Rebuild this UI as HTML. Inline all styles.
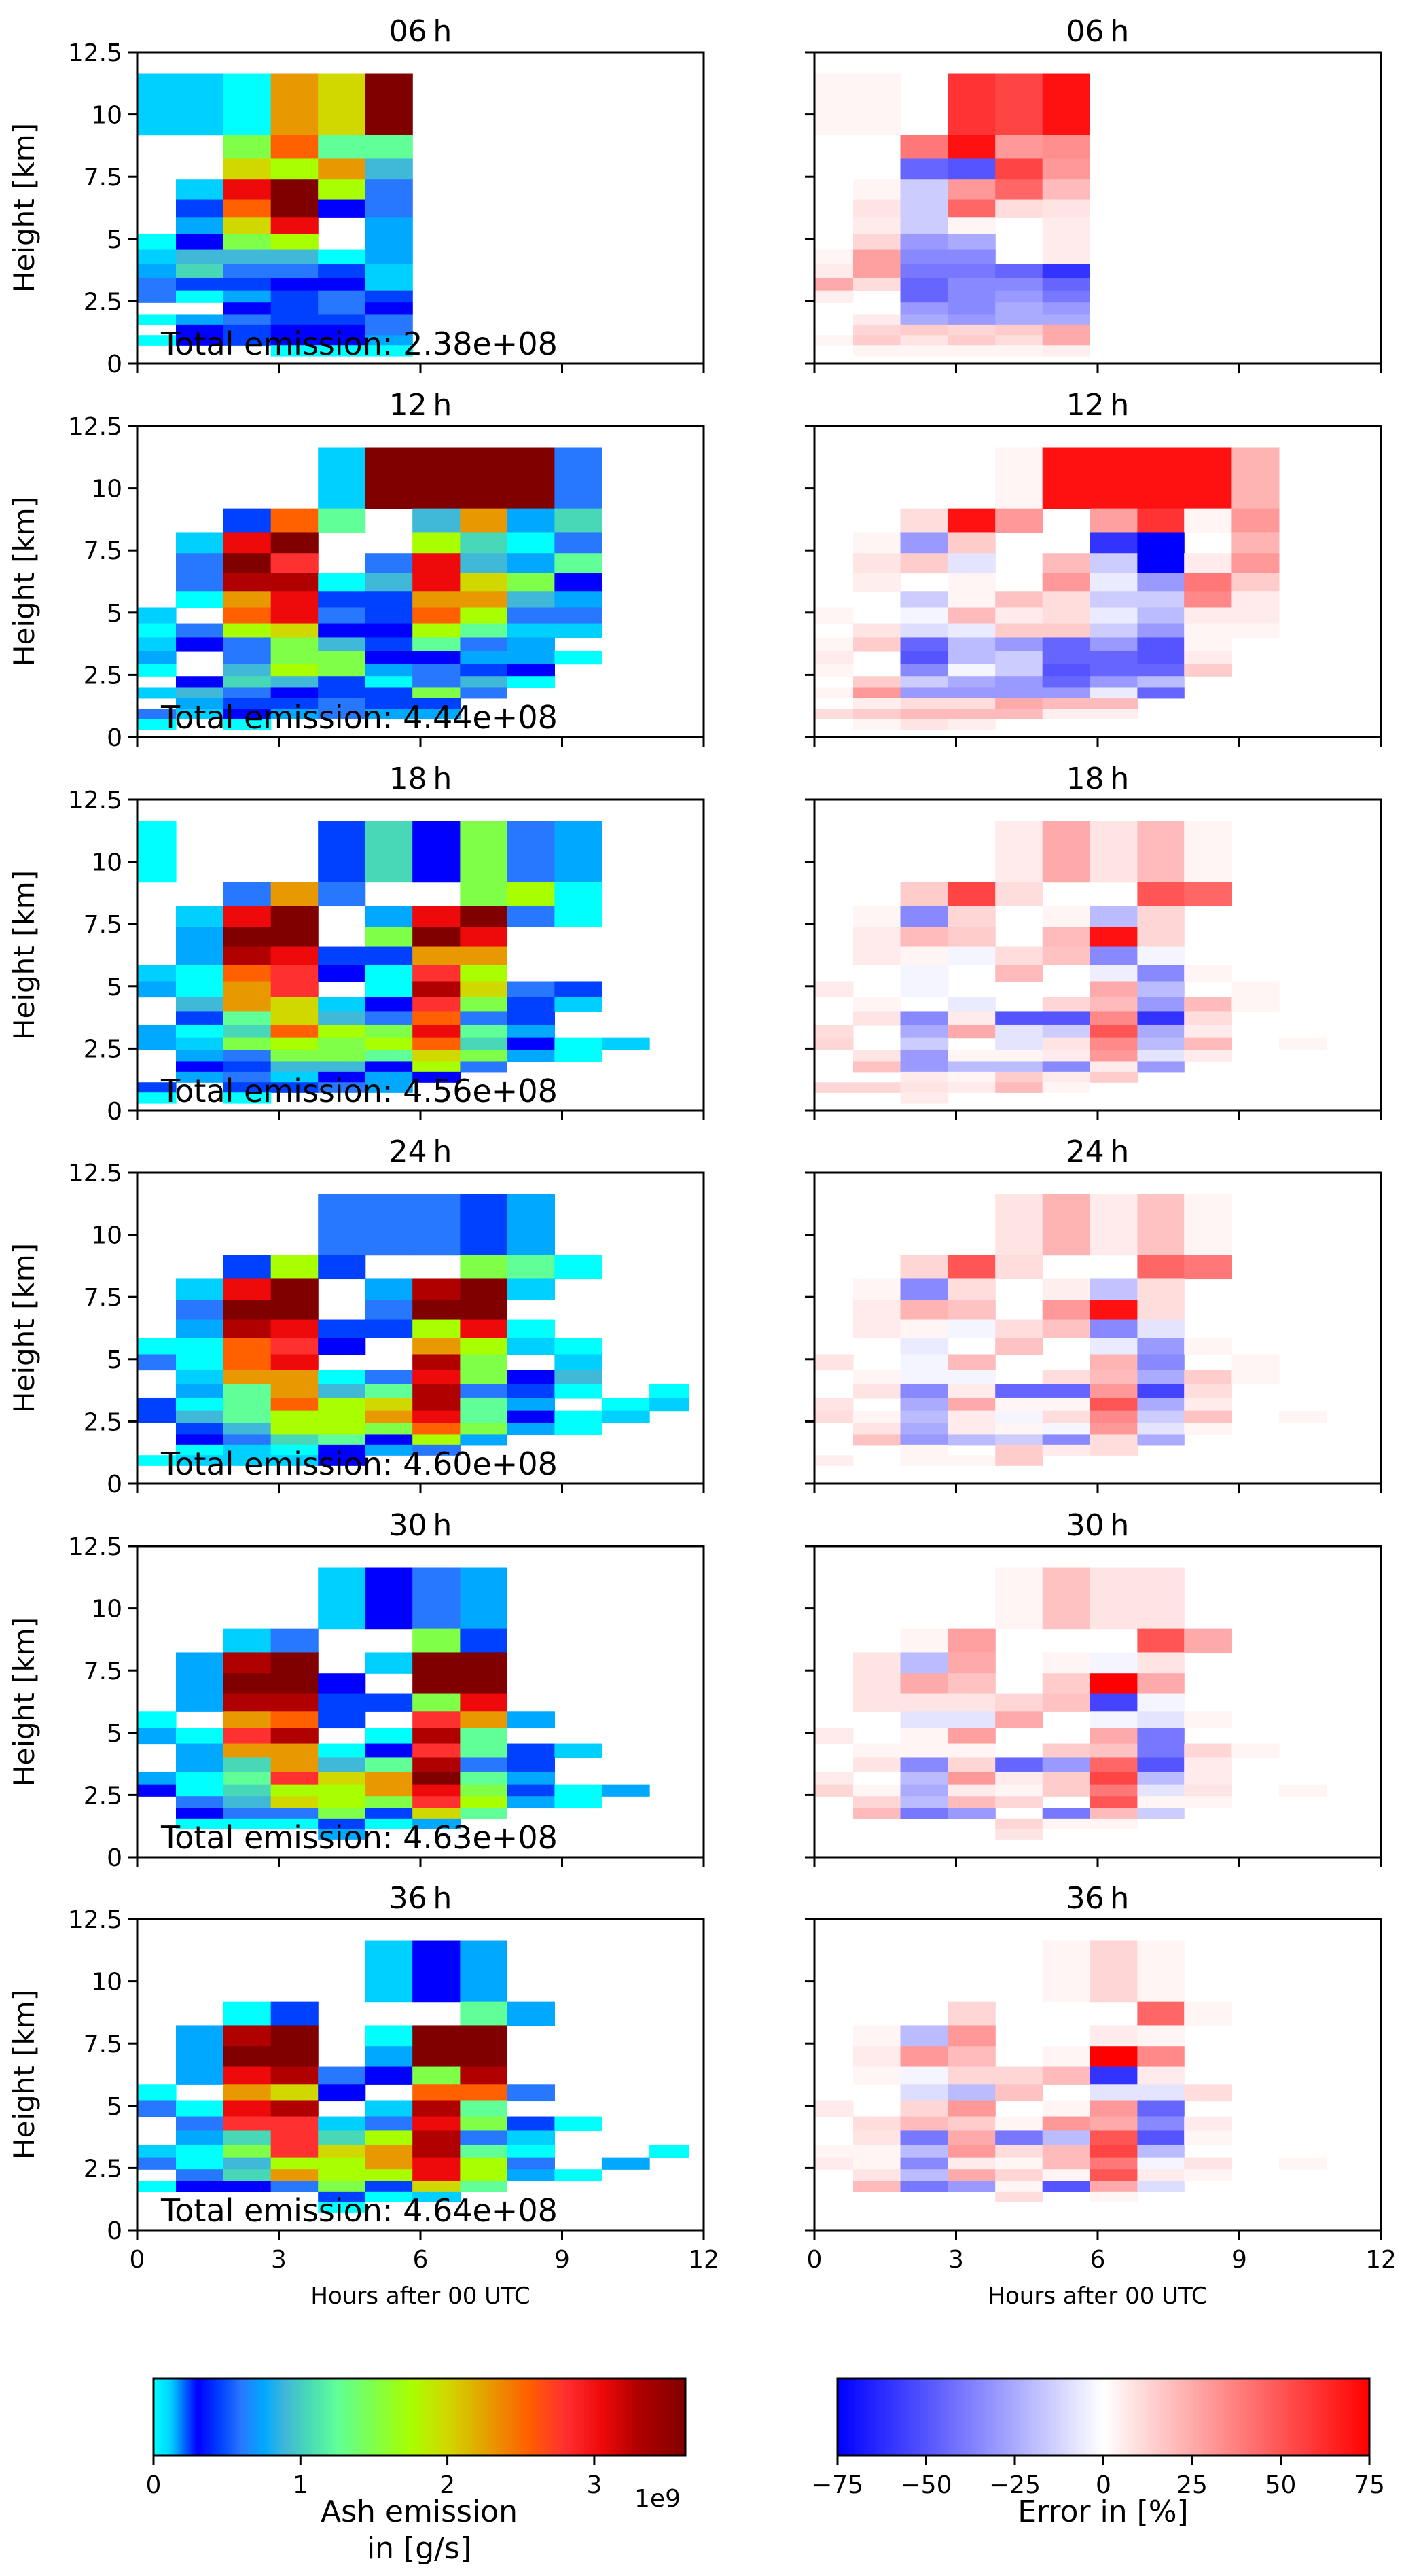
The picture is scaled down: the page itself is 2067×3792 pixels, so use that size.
<!DOCTYPE html>
<html><head><meta charset="utf-8"><style>
html,body{margin:0;padding:0;background:#fff}
svg{display:block;font-family:"DejaVu Sans","Liberation Sans",sans-serif}
</style></head><body>
<svg id="fig" xmlns="http://www.w3.org/2000/svg" width="2067" height="3792" viewBox="0 0 2067 3792"></svg>
<script>
const timeEdges=[0,0.82,1.82,2.83,3.83,4.83,5.83,6.84,7.83,8.84,9.84,10.85,11.68];
const heightEdges=[0.3,0.73,1.14,1.56,1.98,2.45,2.93,3.44,4.0,4.57,5.2,5.86,6.59,7.39,8.23,9.18,11.64];
const panelTitles=["06\u2009h","12\u2009h","18\u2009h","24\u2009h","30\u2009h","36\u2009h"];
const totalLabels=["2.38e+08","4.44e+08","4.56e+08","4.60e+08","4.63e+08","4.64e+08"];
const yTicks=[0,2.5,5,7.5,10,12.5];
const yTickLabels=["0","2.5","5","7.5","10","12.5"];
const xTicks=[0,3,6,9,12];
const xTickLabels=["0","3","6","9","12"];
const ashTicks=[0,1,2,3];
const errTicks=[-75,-50,-25,0,25,50,75];
const errTickLabels=["\u221275","\u221250","\u221225","0","25","50","75"];

// ash emission, 1e9 g/s, rows listed top (9.18-11.64 km) to bottom
const ash06=[
[0.12,0.12,0,2.3,2.0,3.64],[,,1.5,2.55,1.25,1.25],[,,2.0,1.75,2.3,0.9],[,0.12,3.05,3.64,1.75,0.6],
[,0.45,2.55,3.64,0.3,0.6],[,0.75,2.0,3.05,,0.75],[0,0.3,1.5,1.75,,0.75],[0.12,0.9,0.9,0.9,0,0.75],
[0.75,1.05,0.6,0.6,0.45,0.12],[0.6,0.45,0.45,0.3,0.3,0.12],[0.6,0,0.75,0.45,0.6,0.45],[,,0.3,0.45,0.6,0.3],
[0,0.75,0.6,0.45,0.45,0.6],[,0.3,0.45,0.3,0.3,0.6],[0,0.3,0.45,0.3,0.3,0.75],[,,,0,0,0]];
const ash12=[
[,,,,0.12,3.64,3.64,3.64,3.64,0.6],[,,0.45,2.55,1.25,,0.9,2.3,0.75,1.05],[,0.12,3.05,3.64,,,1.75,1.05,0,0.6],
[,0.6,3.64,2.8,,0.6,3.05,0.9,0.75,1.25],[,0.6,3.3,3.3,0,0.9,3.05,2.0,1.5,0.3],[,0,2.3,3.05,0.45,0.45,2.3,2.3,0.9,0.75],
[0.12,,2.55,3.05,0.6,0.45,2.55,1.75,0.6,0.6],[0,0.6,1.75,2.0,0.3,0.3,1.75,1.25,0.12,0.12],[0.12,0.3,0.6,1.5,0.9,0.45,1.25,0.6,0.75],
[0.75,,0.6,1.5,1.5,0.3,0.3,0.75,0.75,0],[0,,0.9,1.75,1.5,0.75,0.6,0.45,0.3],[,0.3,1.05,0.9,0.45,0,0.6,0.9,0],
[0.12,0.9,0.6,0.3,0.45,0.45,1.5,0.6],[,0.75,0.45,0.45,0.6,0.45,0.45],[0.6,0.12,0.3,0.75,0.6,0.75,0.75],[0,,0]];
const ash18=[
[0,,,,0.45,1.05,0.3,1.5,0.6,0.75],[,,0.6,2.3,0.6,,,1.5,1.75,0],[,0.12,3.05,3.64,,0.75,3.05,3.64,0.6,0],
[,0.75,3.64,3.64,,1.5,3.64,3.05],[,0.75,3.3,3.05,0.45,0.45,2.3,2.3],[0.12,0,2.55,2.8,0.3,0,2.8,1.75],
[0.75,0,2.3,2.8,,0,3.3,2.0,0.6,0.45],[,0.9,2.3,2.0,0.12,0.3,2.8,1.5,0.45,0.12],[,0.45,1.25,2.0,0.9,0.6,2.55,0.6,0.45],
[0.75,0,1.05,2.55,1.75,1.5,3.05,1.25,0.75],[0.75,0.12,1.5,1.75,1.5,1.75,2.55,1.05,0.3,0,0.12],[,0.75,0.6,1.5,1.5,1.25,2.0,1.5,0.75,0],
[,0.3,0.45,0.9,0.9,0.3,1.75,0.6],[,0.75,0.6,0.12,0.3,0.75,0.3],[0.45,,0.45,0.45,0.6,0.75],[0,,0]];
const ash24=[
[,,,,0.6,0.6,0.6,0.45,0.75],[,,0.45,1.75,0.45,,,1.5,1.25,0],[,0.12,3.05,3.64,,0.75,3.3,3.64,0.12],
[,0.6,3.64,3.64,,0.6,3.64,3.64],[,0.75,3.3,3.05,0.45,0.45,1.75,3.05,0],[0,0,2.55,2.8,0.3,,2.3,1.75,0.12,0],
[0.6,0,2.55,3.05,,,3.3,1.5,,0.12],[,0.12,2.3,2.3,0,0.6,3.05,1.5,0.3,0.9],[,0.75,1.25,2.3,0.9,1.25,3.3,0.6,0.45,0,,0],
[0.45,0,1.25,2.55,1.75,2.0,3.3,1.25,0.75,,0,0.12],[0.45,0.9,1.25,1.75,1.75,2.3,3.05,1.25,0.3,0,0.12],[,0.45,0.9,1.75,1.75,1.5,2.55,1.5,0.75,0],
[,0.3,0.6,1.05,1.25,0.3,1.75,0.75],[,0,0.12,0,0.3,0.75,0.6],[0,0.12,0.12,0.12,0.3],[]];
const ash30=[
[,,,,0.12,0.3,0.6,0.75],[,,0.12,0.6,,,1.5,0.45],[,0.75,3.3,3.64,,0.12,3.64,3.64],
[,0.75,3.64,3.64,0.3,,3.64,3.64],[,0.75,3.3,3.3,0.45,0.45,1.5,3.05],[0,,2.3,2.55,0.45,,2.8,2.3,0.75],
[0.75,0,2.8,3.3,,0,3.3,1.25],[,0.75,2.3,2.3,0,0.3,2.8,1.25,0.45,0.12],[,0.75,1.05,2.3,0.9,1.25,3.3,0.6,0.45],
[0.75,0,1.25,2.8,2.0,2.3,3.64,1.25,0.75],[0.3,0,1.05,1.75,1.75,2.3,3.05,1.5,0.45,0,0.75],[,0.6,0.9,2.0,1.75,1.5,2.8,1.75,0.75,0],
[,0.3,0.6,0.6,1.5,0.45,2.0,1.25],[,0,0,0,0.45,0,0.75],[,,,,0.75],[]];
const ash36=[
[,,,,,0.12,0.3,0.75],[,,0,0.45,,,,1.25,0.75],[,0.75,3.3,3.64,,0,3.64,3.64],
[,0.75,3.64,3.64,,0.75,3.64,3.64],[,0.75,3.05,3.3,0.6,0.3,1.5,3.3],[0,,2.3,2.0,0.3,,2.55,2.55,0.6],
[0.6,0,3.05,3.3,,0.12,3.3,1.25],[,0.6,2.8,2.8,0.12,0.6,3.05,1.5,0.45,0],[,0.75,1.05,2.8,1.05,1.75,3.3,0.6,0.12],
[0.12,0,1.5,2.8,2.0,2.3,3.3,1.25,0,,,0],[0.6,0,0.9,1.75,1.75,2.3,3.05,1.75,0.6,,0.75],[,0.6,1.05,2.3,1.75,1.75,3.05,1.75,0.75,0],
[0,0.3,0.3,0.6,1.5,0.45,2.0,1.25],[,,,,0.45,0,0.12],[,,,,0],[]];

// error in %, rows top to bottom
const err06=[
[3,3,,60,55,70],[,,40,70,30,33],[,,-45,-50,55,30],[,3,-15,30,45,20],[,8,-15,45,10,8],[,6,-15,3,,6],
[,12,-30,-25,,6],[3,28,-35,-35,,6],[6,28,-40,-40,-45,-60],[25,10,-45,-35,-35,-45],[5,,-45,-35,-30,-40],[,,-30,-35,-25,-30],
[,6,-25,-30,-25,-25],[,12,15,12,15,25],[3,15,8,15,10,25],[,3,3,3,3,5]];
const err12=[
[,,,,3,70,70,70,70,22],[,,10,70,30,,28,60,3,30],[,3,-30,15,,,-60,-75,,22],[,8,15,-8,,20,-15,-75,6,30],
[,5,,3,,30,-6,-30,40,15],[,,-15,3,18,10,-15,-15,35,6],[3,,-3,20,6,10,-6,-20,6,6],[,8,-10,-6,15,15,-15,-30,3,3],
[3,15,-45,-20,-30,-45,-30,-50,3],[6,,-50,-20,-15,-45,-45,-50,6],[3,,-35,-3,-15,-50,-45,-45,15],[,15,-15,-25,-30,-45,-30,-20],
[3,30,-30,-30,-30,-30,-6,-45],[,5,10,10,25,20,20],[10,15,20,20,20,5,5],[,3,8,5]];
const err18=[
[,,,,6,25,8,20,3],[,,15,55,10,,,50,45],[,3,-35,12,,3,-20,12],[,6,20,15,,20,70,12],
[,6,3,-3,10,18,-35,-3],[,,-3,,20,,-5,-35,3],[6,,-3,,,,25,-20,,3],[,3,,-6,,12,20,-30,20,3],
[,8,-35,6,-50,-50,35,-60,10],[10,,-25,25,-8,-15,50,-25,6],[12,,-15,,-8,8,35,-20,20,,3],[,8,-30,3,3,6,30,-8,6],
[,18,-30,-20,-20,-35,6,-30],[,,6,3,15,6,15],[12,12,8,6,20,3],[,,6]];
const err24=[
[,,,,8,22,6,18,3],[,,12,50,10,,,45,40],[,3,-35,10,,5,-18,10],[,6,22,18,,30,70,10],
[,6,3,-3,10,18,-35,-8],[,,-6,,18,,-6,-30,3],[8,,-3,20,,,22,-35,,3],[,3,-3,-3,,10,20,-25,15,3],
[,8,-35,6,-45,-45,30,-55,10],[8,,-25,25,3,3,50,-25,6],[10,3,-20,6,-3,10,35,-15,18,,3],[,8,-25,6,3,-3,30,-8,3],
[,18,-30,-20,-15,-35,10,-25],[,,3,,15,6,10],[5,,3,3,15],[]];
const err30=[
[,,,,3,18,8,8],[,,3,28,,,,50,25],[,8,-20,25,,3,-3,8],[,8,25,18,,15,75,25],
[,8,8,8,12,18,-55,-3],[,,-8,-8,25,,-3,-8,3],[6,,3,28,,,25,-40],[,3,3,3,,15,18,-40,12,3],
[,8,-35,12,-45,-30,45,-50,6],[6,,-20,30,6,15,55,-20,6],[12,3,-25,6,3,15,40,-8,8,,3],[,12,-20,20,12,,50,3,3],
[,20,-40,-30,,-40,20,-15],[,,,,12,3,3],[,,,,8],[]];
const err36=[
[,,,,,3,12,3],[,,,12,,,,45,3],[,3,-20,30,,,6,3],[,6,30,20,,3,75,35],
[,3,-3,12,12,20,-60,6],[,,-10,-20,18,,-8,-8,10],[6,,12,30,,3,30,-45],[,10,20,15,3,30,25,-35,6],
[,8,-40,25,-40,-20,50,-50,3],[3,3,-20,30,10,20,55,-20],[6,3,-35,6,3,20,40,-3,8,,3],[,8,-20,25,12,3,50,6,3],
[,20,-40,-30,3,-50,25,-10],[,,,,10,,3],[],[]];

const ashPanels=[ash06,ash12,ash18,ash24,ash30,ash36];
const errPanels=[err06,err12,err18,err24,err30,err36];

const NS="http://www.w3.org/2000/svg";
const svg=document.getElementById('fig');
const LX=202,RX=1199,AW=834,AH=458;
const panelTops=[77,627,1177,1726,2276,2825];
const ashStops=[[0,"#00ffff"],[0.12,"#00d0ff"],[0.3,"#0000ff"],[0.45,"#0040ff"],[0.6,"#2878ff"],[0.75,"#00a8ff"],[0.9,"#40b8d8"],[1.05,"#48d8b8"],[1.25,"#60ff98"],[1.5,"#80ff48"],[1.75,"#a8ff00"],[2.0,"#d0d800"],[2.3,"#e89800"],[2.55,"#ff6000"],[2.8,"#ff3030"],[3.05,"#ee0a0a"],[3.3,"#b00000"],[3.64,"#800000"]];
function hex(h){return[parseInt(h.substr(1,2),16),parseInt(h.substr(3,2),16),parseInt(h.substr(5,2),16)];}
function ashColor(v){
  if(v<=ashStops[0][0])return ashStops[0][1];
  for(let i=1;i<ashStops.length;i++){
    if(v<=ashStops[i][0]){const a=hex(ashStops[i-1][1]),b=hex(ashStops[i][1]);const t=(v-ashStops[i-1][0])/(ashStops[i][0]-ashStops[i-1][0]);
      return "rgb("+a.map((c,k)=>Math.round(c+(b[k]-c)*t)).join(",")+")";}
  }
  return ashStops[ashStops.length-1][1];
}
function errColor(v){
  let t=Math.max(-1,Math.min(1,v/75));
  if(t<0){const c=Math.round(255*(1+t));return "rgb("+c+","+c+",255)";}
  const c=Math.round(255*(1-t));return "rgb(255,"+c+","+c+")";
}
function el(tag,attrs,parent){const e=document.createElementNS(NS,tag);for(const k in attrs)e.setAttribute(k,attrs[k]);(parent||svg).appendChild(e);return e;}
function xS(left,t){return left+t/12*AW;}
function yS(top,h){return top+(12.5-h)/12.5*AH;}

function drawPanel(left,top,data,colorFn,name,idx,isLeft){
  const g=el('g',{});
  
  
  const nRows=heightEdges.length-1;
  for(let i=0;i<data.length;i++){
    const row=data[i];const r=nRows-1-i;
    if(r<0)continue;
    const h0=heightEdges[r],h1=heightEdges[r+1];
    for(let j=0;j<row.length;j++){
      const v=row[j];if(v==null)continue;
      const x0=xS(left,timeEdges[j]),x1=xS(left,timeEdges[j+1]);
      const y0=yS(top,h1),y1=yS(top,h0);
      const c=el('rect',{x:x0,y:y0,width:x1-x0+0.6,height:y1-y0+0.6,fill:colorFn(v)},g);
      
      
    }
  }
  // spines
  const sp=el('rect',{x:left,y:top,width:AW,height:AH,fill:'none',stroke:'#000','stroke-width':3});
  
  
  // y ticks
  for(let k=0;k<yTicks.length;k++){
    const y=yS(top,yTicks[k]);
    el('line',{x1:left-14,x2:left,y1:y,y2:y,stroke:'#000','stroke-width':3});
    if(isLeft){
      const t=el('text',{x:left-22,y:y+13,'font-size':36,'text-anchor':'end',fill:'#000'});
      t.textContent=yTickLabels[k];
      
      
    }
  }
  for(let k=0;k<xTicks.length;k++){
    const x=xS(left,xTicks[k]);
    el('line',{x1:x,x2:x,y1:top+AH,y2:top+AH+14,stroke:'#000','stroke-width':3});
    if(idx===5){
      const t=el('text',{x:x,y:top+AH+55,'font-size':36,'text-anchor':'middle',fill:'#000'});
      t.textContent=xTickLabels[k];
      
      
    }
  }
  const ti=el('text',{x:left+AW/2,y:top-16,'font-size':44,'text-anchor':'middle',fill:'#000'});
  ti.textContent=panelTitles[idx];
  
  
  if(isLeft){
    const yl=el('text',{x:0,y:0,'font-size':42,'text-anchor':'middle',fill:'#000',transform:'translate(50,'+(top+AH/2)+') rotate(-90)'});
    yl.textContent='Height [km]';
    
    
    const te=el('text',{x:237,y:top+AH-13,'font-size':46,fill:'#000'});
    te.textContent='Total emission: '+totalLabels[idx];
    
    
  }
  if(idx===5){
    const xl=el('text',{x:left+AW/2,y:top+AH+108,'font-size':34,'text-anchor':'middle',fill:'#000'});
    xl.textContent='Hours after 00 UTC';
    
    
  }
}
for(let p=0;p<6;p++){
  drawPanel(LX,panelTops[p],ashPanels[p],ashColor,'ash',p,true);
  drawPanel(RX,panelTops[p],errPanels[p],errColor,'error',p,false);
}

// colorbars
function colorbar(x0,x1,y0,y1,vmin,vmax,fn,ticks,labels,name){
  const g=el('g',{});
  
  
  const n=300;
  for(let i=0;i<n;i++){
    const v=vmin+(vmax-vmin)*(i+0.5)/n;
    el('rect',{x:x0+(x1-x0)*i/n,y:y0,width:(x1-x0)/n+0.8,height:y1-y0,fill:fn(v)},g);
  }
  el('rect',{x:x0,y:y0,width:x1-x0,height:y1-y0,fill:'none',stroke:'#000','stroke-width':3},g);
  for(let k=0;k<ticks.length;k++){
    const x=x0+(ticks[k]-vmin)/(vmax-vmin)*(x1-x0);
    el('line',{x1:x,x2:x,y1:y1,y2:y1+14,stroke:'#000','stroke-width':3},g);
    const t=el('text',{x:x,y:y1+55,'font-size':36,'text-anchor':'middle',fill:'#000'},g);
    t.textContent=labels[k];
    
    
  }
}
colorbar(226,1009,3501,3615,0,3.62,ashColor,ashTicks,["0","1","2","3"],'ash-colorbar');
colorbar(1233,2016,3501,3615,-75,75,errColor,errTicks,errTickLabels,'error-colorbar');
function label(x,y,s,size,name){const t=el('text',{x:x,y:y,'font-size':size,'text-anchor':'middle',fill:'#000'});t.textContent=s;}
label(617,3712,'Ash emission',44,'ash-colorbar-title');
label(617,3766,'in [g/s]',44,'ash-colorbar-unit');
label(968,3690,'1e9',36,'ash-colorbar-offset');
label(1624,3712,'Error in [%]',44,'error-colorbar-title');
</script>
</body></html>
